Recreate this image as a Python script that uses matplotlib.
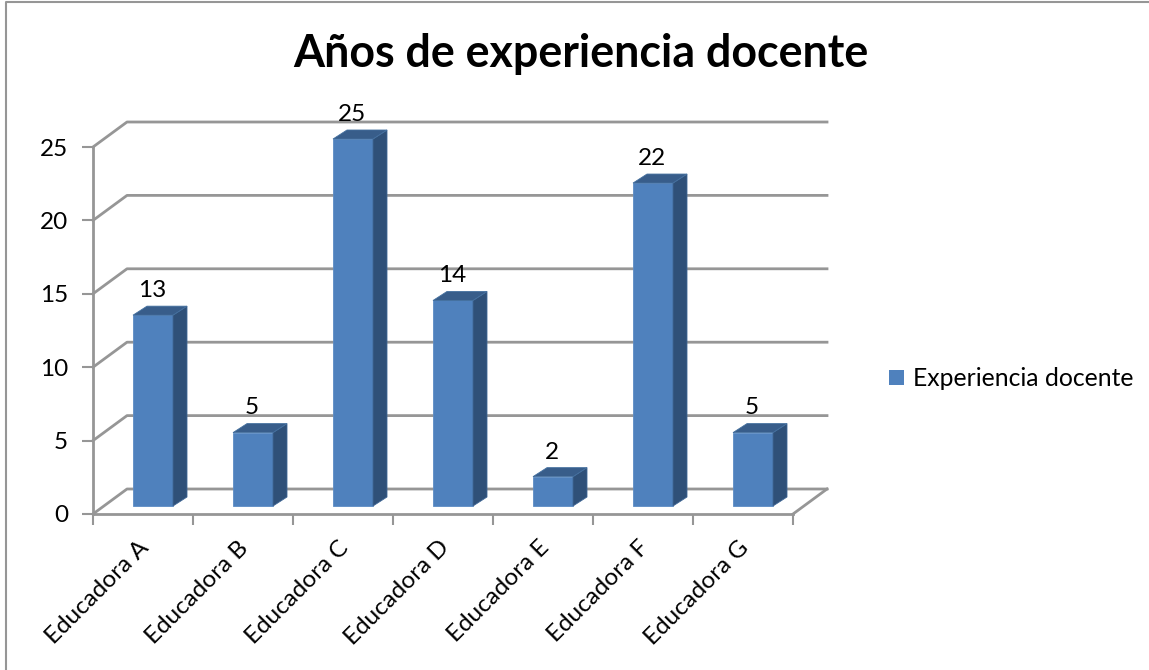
import matplotlib
matplotlib.use('Agg')
import matplotlib.pyplot as plt
from matplotlib.patches import Polygon, Rectangle
from matplotlib.lines import Line2D

plt.rcParams['font.family'] = ['Lato', 'DejaVu Sans']

# datos
categorias = ['Educadora A', 'Educadora B', 'Educadora C', 'Educadora D',
              'Educadora E', 'Educadora F', 'Educadora G']
experiencia = [13, 5, 25, 14, 2, 22, 5]
ticks_y = [0, 5, 10, 15, 20, 25]
serie = 'Experiencia docente'

W, H = 1149, 670
fig = plt.figure(figsize=(W / 100, H / 100), dpi=100)
ax = fig.add_axes([93 / W, 1 - 514 / H, 700 / W, 367 / H])
ax.set_xlim(0, len(categorias))
ax.set_ylim(0, 25)
ax.patch.set_alpha(0)

# profundidad del piso en unidades de datos
fondo_x = 34 / 100
fondo_y = 25 / 14.68
gris = '#969696'

# pared del fondo y piso
for t in ticks_y:
    ax.plot([0, fondo_x, len(categorias) + fondo_x], [t, t + fondo_y, t + fondo_y],
            color=gris, lw=2, clip_on=False, zorder=1)
ax.plot([len(categorias), len(categorias) + fondo_x], [0, fondo_y],
        color=gris, lw=2, clip_on=False, zorder=1)

# barras
ancho = 0.40
sep_x = 0.10
sep_y = 8 / 14.68
prof_x = 0.14
prof_y = 9 / 14.68
for i, v in enumerate(experiencia):
    x0 = i + 0.5 + sep_x - ancho / 2
    x1 = x0 + ancho
    y0 = sep_y
    y1 = v + sep_y
    ax.add_patch(Rectangle((x0, y0), ancho, v, fc='#4f81bd', ec='#5d8cc4', lw=0.6,
                           clip_on=False, zorder=3))
    ax.add_patch(Polygon([(x1, y0), (x1 + prof_x, y0 + prof_y),
                          (x1 + prof_x, y1 + prof_y), (x1, y1)],
                         fc='#2f5078', ec='#3f6796', lw=0.6, clip_on=False, zorder=3))
    ax.add_patch(Polygon([(x0, y1), (x0 + prof_x, y1 + prof_y),
                          (x1 + prof_x, y1 + prof_y), (x1, y1)],
                         fc='#385d8a', ec='#44709f', lw=0.6, clip_on=False, zorder=3))
    ax.text(i + 0.49 + sep_x, y1 + prof_y + 0.35, str(v), ha='center', va='bottom',
            fontsize=17.5, color='black', zorder=4)

# ejes
for lado in ['top', 'right']:
    ax.spines[lado].set_visible(False)
for lado in ['left', 'bottom']:
    ax.spines[lado].set_color(gris)
    ax.spines[lado].set_linewidth(2)
ax.set_yticks(ticks_y)
ax.set_xticks(range(len(categorias) + 1))
ax.set_xticklabels([])
ax.tick_params(axis='y', length=8, width=1.5, color=gris, labelsize=17.5, pad=10)
ax.tick_params(axis='x', length=8, width=1.5, color=gris)

# etiquetas de categoria
for i, c in enumerate(categorias):
    ax.annotate(c, xy=(i + 0.5, 0), xytext=(-5, -23), textcoords='offset pixels',
                rotation=45, rotation_mode='anchor', ha='right', va='top',
                fontsize=17.5, color='black', annotation_clip=False)

# titulo
fig.text(581 / W, 1 - 54 / H, 'Años de experiencia docente', ha='center', va='center',
         fontsize=32.2, fontweight='bold', color='black')

# leyenda
fig.add_artist(Rectangle((889 / W, 1 - 385 / H), 15 / W, 15 / H, fc='#4f81bd', ec='none',
                         transform=fig.transFigure))
fig.text(913 / W, 1 - 378 / H, serie, ha='left', va='center', fontsize=17.8, color='black')

# borde del grafico
fig.add_artist(Line2D([6 / W, 6 / W, 1], [0, 1 - 2 / H, 1 - 2 / H], color=gris, lw=1.5,
                      transform=fig.transFigure))

fig.savefig('out.png', dpi=100)
